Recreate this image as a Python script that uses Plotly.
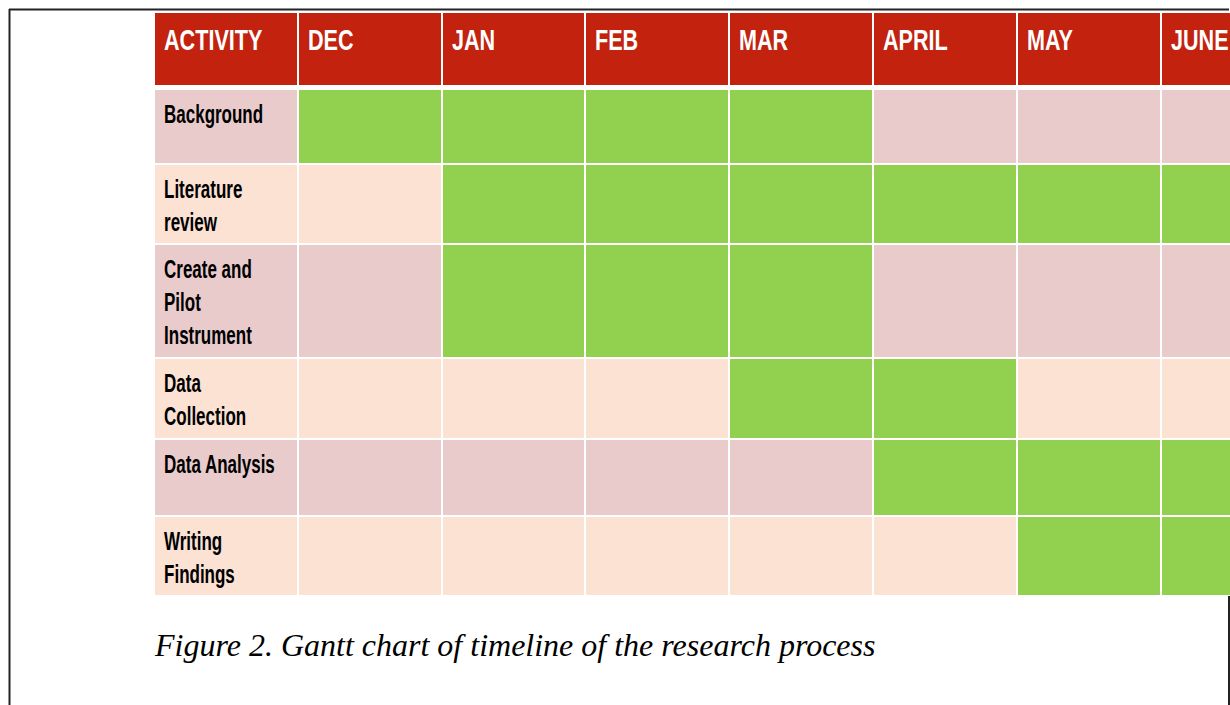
import plotly.graph_objects as go

# ---------------- data ----------------
months = ["DEC", "JAN", "FEB", "MAR", "APRIL", "MAY", "JUNE"]
activities = ["Background", "Literature review", "Create and Pilot Instrument",
              "Data Collection", "Data Analysis", "Writing Findings"]
activity_lines = [["Background"], ["Literature", "review"],
                  ["Create and", "Pilot", "Instrument"],
                  ["Data", "Collection"], ["Data Analysis"], ["Writing", "Findings"]]
start_month = ["DEC", "JAN", "JAN", "MAR", "APRIL", "MAY"]
end_month = ["MAR", "JUNE", "MAR", "APRIL", "JUNE", "JUNE"]
header_first = "ACTIVITY"
caption = "Figure 2. Gantt chart of timeline of the research process"

# ---------------- layout constants (pixels) ----------------
W, H = 1230, 705
table_left = 154.0
col_width = 143.8
header_top, header_bottom = 12, 86
body_top = 89
row_heights = [75, 80, 114, 81, 77, 80]

PINK = "#E9CBCC"
PEACH = "#FBE2D3"
GREEN = "#92D050"
RED = "#C3220F"

# column edges
ncols = len(months) + 1
x_edges = [table_left + i * col_width for i in range(ncols + 1)]

# row edges
y_edges = [header_top, header_bottom, body_top]
for h in row_heights:
    y_edges.append(y_edges[-1] + h)

# z values: 0 pink, 1 peach, 2 green, 3 red
z = [[3] * ncols, [None] * ncols]
for r, act in enumerate(activities):
    base = 0 if r % 2 == 0 else 1
    s = months.index(start_month[r])
    e = months.index(end_month[r])
    row = [base]
    for m in range(len(months)):
        row.append(2 if s <= m <= e else base)
    z.append(row)

cs = []
cols = [PINK, PEACH, GREEN, RED]
for k, c in enumerate(cols):
    cs.append([k / len(cols), c])
    cs.append([(k + 1) / len(cols), c])

fig = go.Figure()
fig.add_trace(go.Heatmap(
    x=x_edges, y=y_edges, z=z, zmin=-0.5, zmax=3.5,
    colorscale=cs, showscale=False, xgap=2, ygap=2,
    hoverinfo="skip"))

sans = "Liberation Sans, Arial, sans-serif"
HEAD_FS = 30
ROW_FS = 25
annotations = []
# header labels
for i, lab in enumerate([header_first] + months):
    annotations.append(dict(
        x=x_edges[i] + 8, y=39, xref="x", yref="y", text=lab,
        showarrow=False, xanchor="left", yanchor="middle",
        font=dict(family=sans, size=HEAD_FS, color="white", weight="bold")))
# activity labels
for r, lines in enumerate(activity_lines):
    top = y_edges[2 + r]
    for j, ln in enumerate(lines):
        baseline = top + 34 + 33 * j
        annotations.append(dict(
            x=x_edges[0] + 8, y=baseline - 9, xref="x", yref="y", text=ln,
            showarrow=False, xanchor="left", yanchor="middle",
            font=dict(family=sans, size=ROW_FS, color="black", weight="bold")))
# caption
annotations.append(dict(
    x=152, y=645, xref="x", yref="y", text=caption, showarrow=False,
    xanchor="left", yanchor="middle",
    font=dict(family="Liberation Serif, Times New Roman, serif", size=32,
              color="black", style="italic")))

shapes = [
    dict(type="line", xref="x", yref="y", x0=9, x1=1229, y0=9.5, y1=9.5,
         line=dict(color="#222222", width=2), layer="below"),
    dict(type="line", xref="x", yref="y", x0=9.5, x1=9.5, y0=9, y1=H,
         line=dict(color="#222222", width=2), layer="below"),
    dict(type="line", xref="x", yref="y", x0=1229, x1=1229, y0=596, y1=H,
         line=dict(color="#222222", width=2), layer="below"),
]

fig.update_layout(
    width=W, height=H, margin=dict(l=0, r=0, t=0, b=0),
    paper_bgcolor="white", plot_bgcolor="white",
    xaxis=dict(range=[0, W], visible=False, fixedrange=True),
    yaxis=dict(range=[H, 0], visible=False, fixedrange=True),
    annotations=annotations, shapes=shapes, showlegend=False)

# remove page margin and narrow the table labels (the original uses a condensed face)
post_js = """
document.body.style.margin = '0';
var gd = document.getElementById('{plot_id}');
var scales = {'%dpx': 0.72, '%dpx': 0.68};
gd.querySelectorAll('text.annotation-text').forEach(function (t) {
  var s = scales[t.style.fontSize];
  if (!s) return;
  var bx = t.getBBox().x;
  var ex = t.getAttribute('transform') || '';
  t.setAttribute('transform', ex + ' translate(' + bx + ',0) scale(' + s + ',1) translate(' + (-bx) + ',0)');
});
""" % (HEAD_FS, ROW_FS)

fig.write_html("out.html", post_script=post_js,
               config={"displayModeBar": False, "staticPlot": True})
